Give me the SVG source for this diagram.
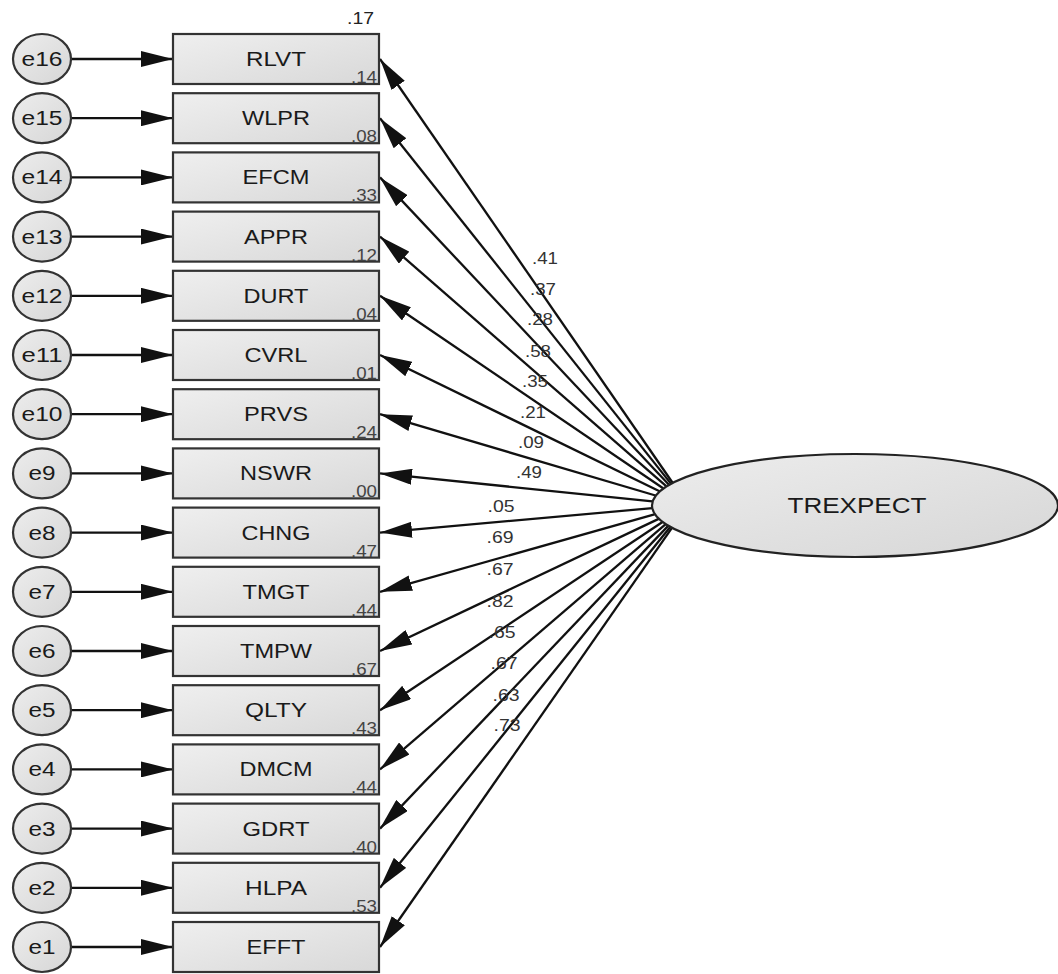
<svg xmlns="http://www.w3.org/2000/svg" width="1058" height="974" viewBox="0 0 1058 974">
<defs>
<linearGradient id="gBox" x1="0" y1="0" x2="1" y2="1">
<stop offset="0" stop-color="#efefef"/>
<stop offset="1" stop-color="#d8d8d8"/>
</linearGradient>
<linearGradient id="gEll" x1="0" y1="0" x2="1" y2="1">
<stop offset="0" stop-color="#ededed"/>
<stop offset="1" stop-color="#d6d6d6"/>
</linearGradient>
<marker id="ah" markerUnits="userSpaceOnUse" markerWidth="32" markerHeight="16" viewBox="0 0 32 16" refX="32" refY="8" orient="auto">
<path d="M0,0 L32,8 L0,16 z" fill="#111"/>
</marker>
</defs>
<style>
.box{fill:url(#gBox);stroke:#333;stroke-width:2.2}
.err{fill:url(#gEll);stroke:#333;stroke-width:2.2}
.lat{fill:url(#gEll);stroke:#222;stroke-width:2.2}
.nm{font-family:"Liberation Sans",Arial,sans-serif;font-size:20px;fill:#1a1a1a;text-anchor:middle}
.r2{font-family:"Liberation Sans",Arial,sans-serif;font-size:16px;fill:#444;text-anchor:end}
.pl{font-family:"Liberation Sans",Arial,sans-serif;font-size:17px;fill:#333;text-anchor:middle}
.cn{stroke:#111;stroke-width:2.3;fill:none;marker-end:url(#ah)}
</style>
<rect width="1058" height="974" fill="#fff"/>

<g id="connectors">
<line class="cn" x1="71" y1="59" x2="173" y2="59"/>
<line class="cn" x1="71" y1="118.2" x2="173" y2="118.2"/>
<line class="cn" x1="71" y1="177.4" x2="173" y2="177.4"/>
<line class="cn" x1="71" y1="236.6" x2="173" y2="236.6"/>
<line class="cn" x1="71" y1="295.8" x2="173" y2="295.8"/>
<line class="cn" x1="71" y1="355" x2="173" y2="355"/>
<line class="cn" x1="71" y1="414.2" x2="173" y2="414.2"/>
<line class="cn" x1="71" y1="473.4" x2="173" y2="473.4"/>
<line class="cn" x1="71" y1="532.6" x2="173" y2="532.6"/>
<line class="cn" x1="71" y1="591.8" x2="173" y2="591.8"/>
<line class="cn" x1="71" y1="651" x2="173" y2="651"/>
<line class="cn" x1="71" y1="710.2" x2="173" y2="710.2"/>
<line class="cn" x1="71" y1="769.4" x2="173" y2="769.4"/>
<line class="cn" x1="71" y1="828.6" x2="173" y2="828.6"/>
<line class="cn" x1="71" y1="887.8" x2="173" y2="887.8"/>
<line class="cn" x1="71" y1="947" x2="173" y2="947"/>

<line class="cn" x1="672.4" y1="482.5" x2="380" y2="59"/>
<line class="cn" x1="670.7" y1="483.4" x2="380" y2="118.2"/>
<line class="cn" x1="668.7" y1="484.5" x2="380" y2="177.4"/>
<line class="cn" x1="666.2" y1="486.1" x2="380" y2="236.6"/>
<line class="cn" x1="663.1" y1="488.2" x2="380" y2="295.8"/>
<line class="cn" x1="659.5" y1="491.2" x2="380" y2="355"/>
<line class="cn" x1="655.5" y1="495.5" x2="380" y2="414.2"/>
<line class="cn" x1="652.5" y1="501.4" x2="380" y2="473.4"/>
<line class="cn" x1="652.4" y1="508.2" x2="380" y2="532.6"/>
<line class="cn" x1="655.3" y1="514.2" x2="380" y2="591.8"/>
<line class="cn" x1="659.2" y1="518.6" x2="380" y2="651"/>
<line class="cn" x1="662.9" y1="521.7" x2="380" y2="710.2"/>
<line class="cn" x1="666.0" y1="523.8" x2="380" y2="769.4"/>
<line class="cn" x1="668.6" y1="525.4" x2="380" y2="828.6"/>
<line class="cn" x1="670.6" y1="526.5" x2="380" y2="887.8"/>
<line class="cn" x1="672.3" y1="527.4" x2="380" y2="947"/>

<text class="pl" x="545" y="264" textLength="26" lengthAdjust="spacingAndGlyphs">.41</text>
<text class="pl" x="543" y="295" textLength="26" lengthAdjust="spacingAndGlyphs">.37</text>
<text class="pl" x="540" y="325" textLength="26" lengthAdjust="spacingAndGlyphs">.28</text>
<text class="pl" x="538" y="357" textLength="26" lengthAdjust="spacingAndGlyphs">.58</text>
<text class="pl" x="535" y="387" textLength="26" lengthAdjust="spacingAndGlyphs">.35</text>
<text class="pl" x="533" y="418" textLength="26" lengthAdjust="spacingAndGlyphs">.21</text>
<text class="pl" x="531" y="448" textLength="26" lengthAdjust="spacingAndGlyphs">.09</text>
<text class="pl" x="529" y="478" textLength="26" lengthAdjust="spacingAndGlyphs">.49</text>
<text class="pl" x="501" y="512" textLength="27" lengthAdjust="spacingAndGlyphs">.05</text>
<text class="pl" x="500" y="543" textLength="27" lengthAdjust="spacingAndGlyphs">.69</text>
<text class="pl" x="500" y="575" textLength="27" lengthAdjust="spacingAndGlyphs">.67</text>
<text class="pl" x="500" y="607" textLength="27" lengthAdjust="spacingAndGlyphs">.82</text>
<text class="pl" x="502" y="638" textLength="27" lengthAdjust="spacingAndGlyphs">.65</text>
<text class="pl" x="504" y="669" textLength="27" lengthAdjust="spacingAndGlyphs">.67</text>
<text class="pl" x="506" y="701" textLength="27" lengthAdjust="spacingAndGlyphs">.63</text>
<text class="pl" x="507" y="731" textLength="27" lengthAdjust="spacingAndGlyphs">.73</text>
</g>

<g id="TREXPECT">
<ellipse class="lat" cx="855" cy="505.5" rx="203" ry="51.5"/>
<text class="nm" x="857" y="513" style="font-size:22px" textLength="139" lengthAdjust="spacingAndGlyphs">TREXPECT</text>
</g>

<g id="r2-top"><text class="r2" x="374" y="24" style="font-size:17px;fill:#222" textLength="27" lengthAdjust="spacingAndGlyphs">.17</text></g>

<g id="RLVT"><rect class="box" x="173" y="34" width="206" height="50"/><text class="nm" x="276" y="66" textLength="60" lengthAdjust="spacingAndGlyphs">RLVT</text><text class="r2" x="377" y="83" textLength="26" lengthAdjust="spacingAndGlyphs">.14</text></g>
<g id="WLPR"><rect class="box" x="173" y="93.2" width="206" height="50"/><text class="nm" x="276" y="125.2" textLength="68" lengthAdjust="spacingAndGlyphs">WLPR</text><text class="r2" x="377" y="142.2" textLength="26" lengthAdjust="spacingAndGlyphs">.08</text></g>
<g id="EFCM"><rect class="box" x="173" y="152.4" width="206" height="50"/><text class="nm" x="276" y="184.4" textLength="67" lengthAdjust="spacingAndGlyphs">EFCM</text><text class="r2" x="377" y="201.4" textLength="26" lengthAdjust="spacingAndGlyphs">.33</text></g>
<g id="APPR"><rect class="box" x="173" y="211.6" width="206" height="50"/><text class="nm" x="276" y="243.6" textLength="64" lengthAdjust="spacingAndGlyphs">APPR</text><text class="r2" x="377" y="260.6" textLength="26" lengthAdjust="spacingAndGlyphs">.12</text></g>
<g id="DURT"><rect class="box" x="173" y="270.8" width="206" height="50"/><text class="nm" x="276" y="302.8" textLength="65" lengthAdjust="spacingAndGlyphs">DURT</text><text class="r2" x="377" y="319.8" textLength="26" lengthAdjust="spacingAndGlyphs">.04</text></g>
<g id="CVRL"><rect class="box" x="173" y="330" width="206" height="50"/><text class="nm" x="276" y="362" textLength="63" lengthAdjust="spacingAndGlyphs">CVRL</text><text class="r2" x="377" y="379" textLength="26" lengthAdjust="spacingAndGlyphs">.01</text></g>
<g id="PRVS"><rect class="box" x="173" y="389.2" width="206" height="50"/><text class="nm" x="276" y="421.2" textLength="64" lengthAdjust="spacingAndGlyphs">PRVS</text><text class="r2" x="377" y="438.2" textLength="26" lengthAdjust="spacingAndGlyphs">.24</text></g>
<g id="NSWR"><rect class="box" x="173" y="448.4" width="206" height="50"/><text class="nm" x="276" y="480.4" textLength="72" lengthAdjust="spacingAndGlyphs">NSWR</text><text class="r2" x="377" y="497.4" textLength="26" lengthAdjust="spacingAndGlyphs">.00</text></g>
<g id="CHNG"><rect class="box" x="173" y="507.6" width="206" height="50"/><text class="nm" x="276" y="539.6" textLength="69" lengthAdjust="spacingAndGlyphs">CHNG</text><text class="r2" x="377" y="556.6" textLength="26" lengthAdjust="spacingAndGlyphs">.47</text></g>
<g id="TMGT"><rect class="box" x="173" y="566.8" width="206" height="50"/><text class="nm" x="276" y="598.8" textLength="67" lengthAdjust="spacingAndGlyphs">TMGT</text><text class="r2" x="377" y="615.8" textLength="26" lengthAdjust="spacingAndGlyphs">.44</text></g>
<g id="TMPW"><rect class="box" x="173" y="626" width="206" height="50"/><text class="nm" x="276" y="658" textLength="72" lengthAdjust="spacingAndGlyphs">TMPW</text><text class="r2" x="377" y="675" textLength="26" lengthAdjust="spacingAndGlyphs">.67</text></g>
<g id="QLTY"><rect class="box" x="173" y="685.2" width="206" height="50"/><text class="nm" x="276" y="717.2" textLength="62" lengthAdjust="spacingAndGlyphs">QLTY</text><text class="r2" x="377" y="734.2" textLength="26" lengthAdjust="spacingAndGlyphs">.43</text></g>
<g id="DMCM"><rect class="box" x="173" y="744.4" width="206" height="50"/><text class="nm" x="276" y="776.4" textLength="73" lengthAdjust="spacingAndGlyphs">DMCM</text><text class="r2" x="377" y="793.4" textLength="26" lengthAdjust="spacingAndGlyphs">.44</text></g>
<g id="GDRT"><rect class="box" x="173" y="803.6" width="206" height="50"/><text class="nm" x="276" y="835.6" textLength="67" lengthAdjust="spacingAndGlyphs">GDRT</text><text class="r2" x="377" y="852.6" textLength="26" lengthAdjust="spacingAndGlyphs">.40</text></g>
<g id="HLPA"><rect class="box" x="173" y="862.8" width="206" height="50"/><text class="nm" x="276" y="894.8" textLength="62" lengthAdjust="spacingAndGlyphs">HLPA</text><text class="r2" x="377" y="911.8" textLength="26" lengthAdjust="spacingAndGlyphs">.53</text></g>
<g id="EFFT"><rect class="box" x="173" y="922" width="206" height="50"/><text class="nm" x="276" y="954" textLength="59" lengthAdjust="spacingAndGlyphs">EFFT</text></g>

<g id="e16"><ellipse class="err" cx="42" cy="59" rx="29" ry="25"/><text class="nm" x="42" y="66" textLength="41" lengthAdjust="spacingAndGlyphs">e16</text></g>
<g id="e15"><ellipse class="err" cx="42" cy="118.2" rx="29" ry="25"/><text class="nm" x="42" y="125.2" textLength="41" lengthAdjust="spacingAndGlyphs">e15</text></g>
<g id="e14"><ellipse class="err" cx="42" cy="177.4" rx="29" ry="25"/><text class="nm" x="42" y="184.4" textLength="41" lengthAdjust="spacingAndGlyphs">e14</text></g>
<g id="e13"><ellipse class="err" cx="42" cy="236.6" rx="29" ry="25"/><text class="nm" x="42" y="243.6" textLength="41" lengthAdjust="spacingAndGlyphs">e13</text></g>
<g id="e12"><ellipse class="err" cx="42" cy="295.8" rx="29" ry="25"/><text class="nm" x="42" y="302.8" textLength="41" lengthAdjust="spacingAndGlyphs">e12</text></g>
<g id="e11"><ellipse class="err" cx="42" cy="355" rx="29" ry="25"/><text class="nm" x="42" y="362" textLength="41" lengthAdjust="spacingAndGlyphs">e11</text></g>
<g id="e10"><ellipse class="err" cx="42" cy="414.2" rx="29" ry="25"/><text class="nm" x="42" y="421.2" textLength="41" lengthAdjust="spacingAndGlyphs">e10</text></g>
<g id="e9"><ellipse class="err" cx="42" cy="473.4" rx="29" ry="25"/><text class="nm" x="42" y="480.4" textLength="27" lengthAdjust="spacingAndGlyphs">e9</text></g>
<g id="e8"><ellipse class="err" cx="42" cy="532.6" rx="29" ry="25"/><text class="nm" x="42" y="539.6" textLength="27" lengthAdjust="spacingAndGlyphs">e8</text></g>
<g id="e7"><ellipse class="err" cx="42" cy="591.8" rx="29" ry="25"/><text class="nm" x="42" y="598.8" textLength="27" lengthAdjust="spacingAndGlyphs">e7</text></g>
<g id="e6"><ellipse class="err" cx="42" cy="651" rx="29" ry="25"/><text class="nm" x="42" y="658" textLength="27" lengthAdjust="spacingAndGlyphs">e6</text></g>
<g id="e5"><ellipse class="err" cx="42" cy="710.2" rx="29" ry="25"/><text class="nm" x="42" y="717.2" textLength="27" lengthAdjust="spacingAndGlyphs">e5</text></g>
<g id="e4"><ellipse class="err" cx="42" cy="769.4" rx="29" ry="25"/><text class="nm" x="42" y="776.4" textLength="27" lengthAdjust="spacingAndGlyphs">e4</text></g>
<g id="e3"><ellipse class="err" cx="42" cy="828.6" rx="29" ry="25"/><text class="nm" x="42" y="835.6" textLength="27" lengthAdjust="spacingAndGlyphs">e3</text></g>
<g id="e2"><ellipse class="err" cx="42" cy="887.8" rx="29" ry="25"/><text class="nm" x="42" y="894.8" textLength="27" lengthAdjust="spacingAndGlyphs">e2</text></g>
<g id="e1"><ellipse class="err" cx="42" cy="947" rx="29" ry="25"/><text class="nm" x="42" y="954" textLength="27" lengthAdjust="spacingAndGlyphs">e1</text></g>
</svg>
